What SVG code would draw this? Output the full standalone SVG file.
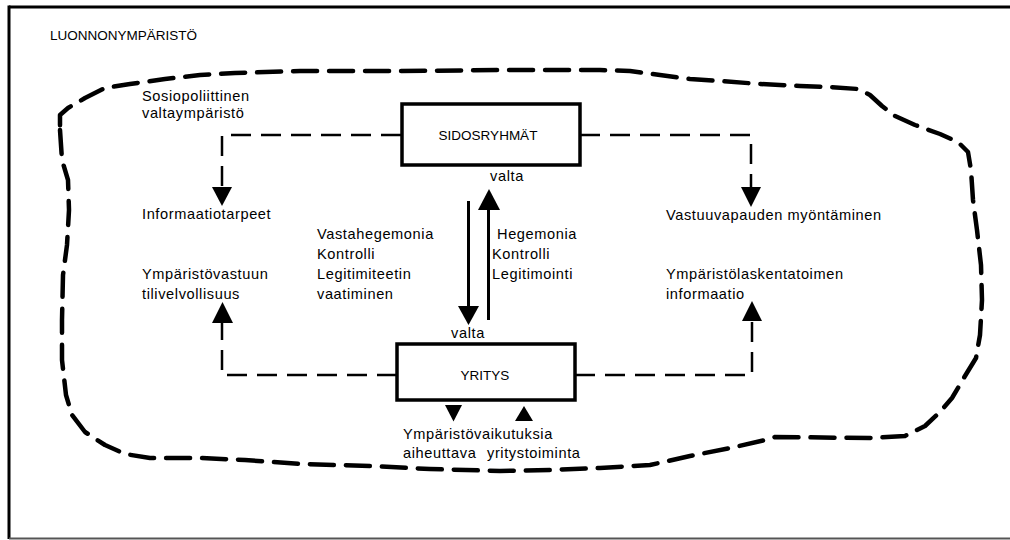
<svg xmlns="http://www.w3.org/2000/svg" width="1010" height="540" viewBox="0 0 1010 540">
<style>
.t{font-family:"Liberation Sans",Arial,sans-serif;font-size:14.6px;letter-spacing:0.6px;fill:#000}
.c{font-family:"Liberation Sans",Arial,sans-serif;font-size:13.5px;letter-spacing:0;fill:#000}
.box{fill:#fff;stroke:#000;stroke-width:3.5}
.dash{fill:none;stroke:#000;stroke-width:2.5;stroke-dasharray:20 10}
.solid{fill:none;stroke:#000;stroke-width:3}
.loop{fill:none;stroke:#000;stroke-width:4.5;stroke-dasharray:24 12;stroke-linecap:round;stroke-linejoin:round}
</style>
<rect width="1010" height="540" fill="#fff"/>
<g id="frame">
<line x1="9" y1="7" x2="1010" y2="7" stroke="#000" stroke-width="3"/>
<line x1="9" y1="5.5" x2="9" y2="539" stroke="#000" stroke-width="3"/>
<line x1="9" y1="538.5" x2="1010" y2="538.5" stroke="#555" stroke-width="2"/>
</g>
<text id="title" class="c" x="50" y="40">LUONNONYMPÄRISTÖ</text>
<g id="environment">
<path class="loop" d="M 60,130 L 62,160 L 68,180 L 69,210 L 67,245 L 63,275 L 62,320 L 62,360 L 66,395 L 72,415 L 85,432 L 105,445 L 125,454 L 150,458 L 200,458 L 245,460 L 300,464 L 370,466 L 430,469 L 500,471 L 550,470 L 600,468 L 650,465 L 690,456 L 735,447 L 765,440 L 775,437 L 870,438 L 905,436 L 925,426 L 940,412 L 952,398 L 965,376 L 976,358 L 980,335 L 982,300 L 981,265 L 977,230 L 973,200 L 971,170 L 968,152 L 958,142 L 940,134 L 915,125 L 895,116 L 882,106 L 870,95 L 858,89 L 830,87 L 800,86 L 760,84 L 720,81 L 690,79 L 660,75 L 630,71 L 600,70 L 500,70 L 400,71 L 300,71 L 235,73 L 200,75 L 165,79 L 130,84 L 105,88 L 85,98 L 68,108 L 60,115 Z"/>
<text class="t" x="142" y="101">Sosiopoliittinen</text>
<text class="t" x="142" y="118">valtaympäristö</text>
</g>
<g id="connectors">
<path class="dash" d="M 401,135 H 222 V 190"/>
<polygon points="212,187 232,187 222,206"/>
<path class="dash" d="M 580,135 H 751 V 190"/>
<polygon points="741,187 761,187 751,207"/>
<path class="dash" d="M 397,375 H 222 V 322"/>
<polygon points="212,323 233,323 222.5,302"/>
<path class="dash" d="M 575,375 H 752 V 320"/>
<polygon points="742,321 762,321 752,301"/>
<line class="solid" x1="468.5" y1="201" x2="468.5" y2="308"/>
<polygon points="458,306 479,306 468.5,325"/>
<line class="solid" x1="488.5" y1="320" x2="488.5" y2="208"/>
<polygon points="478,210 500,210 489,189"/>
<polygon points="445,405 462,405 453.5,421.5"/>
<polygon points="515,421 533,421 524,406"/>
</g>
<g id="sidosryhmat">
<rect class="box" x="402" y="104" width="178" height="61"/>
<text class="c" x="488" y="140" text-anchor="middle">SIDOSRYHMÄT</text>
<text class="t" x="507" y="181" text-anchor="middle">valta</text>
</g>
<g id="yritys">
<rect class="box" x="397" y="344" width="178" height="56"/>
<text class="c" x="485" y="380" text-anchor="middle">YRITYS</text>
<text class="t" x="468" y="338" text-anchor="middle">valta</text>
</g>
<g id="informaatiotarpeet">
<text class="t" x="142" y="219">Informaatiotarpeet</text>
</g>
<g id="tilivelvollisuus">
<text class="t" x="142" y="279">Ympäristövastuun</text>
<text class="t" x="142" y="299">tilivelvollisuus</text>
</g>
<g id="vastahegemonia">
<text class="t" x="317" y="239">Vastahegemonia</text>
<text class="t" x="317" y="259">Kontrolli</text>
<text class="t" x="317" y="279">Legitimiteetin</text>
<text class="t" x="317" y="299">vaatiminen</text>
</g>
<g id="hegemonia">
<text class="t" x="497" y="239">Hegemonia</text>
<text class="t" x="492" y="259">Kontrolli</text>
<text class="t" x="492" y="279">Legitimointi</text>
</g>
<g id="vastuuvapaus">
<text class="t" x="666" y="220">Vastuuvapauden myöntäminen</text>
</g>
<g id="laskentatoimi">
<text class="t" x="666" y="279">Ympäristölaskentatoimen</text>
<text class="t" x="666" y="299">informaatio</text>
</g>
<g id="yritystoiminta">
<text class="t" x="403" y="439">Ympäristövaikutuksia</text>
<text class="t" x="403" y="458">aiheuttava<tspan x="487">yritystoiminta</tspan></text>
</g>
</svg>
